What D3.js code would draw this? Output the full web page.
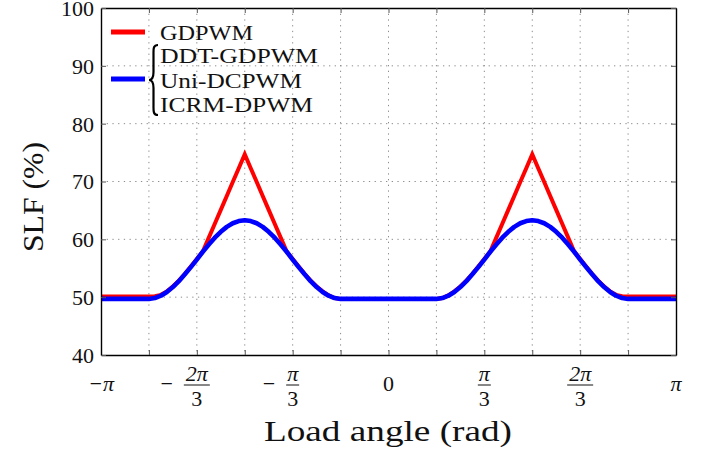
<!DOCTYPE html>
<html>
<head>
<meta charset="utf-8">
<script src="https://cdnjs.cloudflare.com/ajax/libs/d3/7.8.5/d3.min.js"></script>
<style>
	body { margin: 0; background: #fff; }
	svg { display: block; }
</style>
</head>
<body>
<div id="chart"></div>
<script>
// load angle in steps of pi/48
var angleSteps = [
	-48,-47,-46,-45,-44,-43,-42,-41,-40,-39,-38,-37,-36,-35,-34,-33,-32,-31,-30,-29,-28,-27,-26,-25,
	-24,-23,-22,-21,-20,-19,-18,-17,-16,-15,-14,-13,-12,-11,-10,-9,-8,-7,-6,-5,-4,-3,-2,-1,
	0,1,2,3,4,5,6,7,8,9,10,11,12,13,14,15,16,17,18,19,20,21,22,23,24,
	25,26,27,28,29,30,31,32,33,34,35,36,37,38,39,40,41,42,43,44,45,46,47,48
]

var slfGDPWM = [
	50.1,50.1,50.1,50.1,50.1,50.1,50.1,50.1,
	50.1,50.15,50.4,51.0,51.85,52.85,54.0,55.3,56.6,57.9,60.3,62.7,65.1,67.5,69.9,72.3,74.7,
	72.3,69.9,67.5,65.1,62.7,60.3,57.9,56.6,55.3,54.0,52.85,51.85,51.0,50.3,49.85,49.7,
	49.7,49.7,49.7,49.7,49.7,49.7,49.7,49.7,49.7,49.7,49.7,49.7,49.7,49.7,49.7,
	49.7,49.85,50.3,51.0,51.85,52.85,54.0,55.3,56.6,57.9,60.3,62.7,65.1,67.5,69.9,72.3,74.7,
	72.3,69.9,67.5,65.1,62.7,60.3,57.9,56.6,55.3,54.0,52.85,51.85,51.0,50.4,50.15,50.1,
	50.1,50.1,50.1,50.1,50.1,50.1,50.1,50.1
]

var slfDPWM = [
	49.7,49.7,49.7,49.7,49.7,49.7,49.7,49.7,
	49.7,49.85,50.25,50.9,51.75,52.77,53.95,55.2,56.5,57.85,59.1,60.28,61.3,62.15,62.78,63.16,63.3,
	63.16,62.78,62.15,61.3,60.28,59.1,57.85,56.5,55.2,53.95,52.77,51.75,50.9,50.25,49.85,49.7,
	49.7,49.7,49.7,49.7,49.7,49.7,49.7,49.7,49.7,49.7,49.7,49.7,49.7,49.7,49.7,
	49.7,49.85,50.25,50.9,51.75,52.77,53.95,55.2,56.5,57.85,59.1,60.28,61.3,62.15,62.78,63.16,63.3,
	63.16,62.78,62.15,61.3,60.28,59.1,57.85,56.5,55.2,53.95,52.77,51.75,50.9,50.25,49.85,49.7,
	49.7,49.7,49.7,49.7,49.7,49.7,49.7,49.7
]

// x ticks every pi/6, labels every pi/3
var xTickSteps = [-6,-5,-4,-3,-2,-1,0,1,2,3,4,5,6]
var xLabelSteps = [-6,-4,-2,0,2,4,6]
var xLabelSign = ['', '\u2212', '\u2212', '', '', '', '']
var xLabelNum = ['\u2212\u03c0', '2\u03c0', '\u03c0', '0', '\u03c0', '2\u03c0', '\u03c0']
var xLabelDen = ['', '3', '3', '', '3', '3', '']
var yTicks = [40, 50, 60, 70, 80, 90, 100]

var legendNames = ['GDPWM', 'DDT-GDPWM', 'Uni-DCPWM', 'ICRM-DPWM']
var legendWidths = [93, 158, 142, 153]

document.addEventListener('DOMContentLoaded', function() {
	var width = 709, height = 457
	var left = 101, right = 676, top = 8, bottom = 355

	var svg = d3.select('#chart')
		.append('svg')
		.attr('width', width)
		.attr('height', height)
		.attr('font-family', 'Liberation Serif, serif')

	var x = d3.scaleLinear().domain([-Math.PI, Math.PI]).range([left, right])
	var y = d3.scaleLinear().domain([40, 100]).range([bottom, top])

	var piOver6 = xTickSteps.map(function(s){ return s * Math.PI / 6 })

	//dotted grid
	svg.append('g').selectAll('line')
		.data(piOver6.slice(1, -1))
		.enter()
		.append('line')
		.attr('x1', function(d){ return x(d) })
		.attr('x2', function(d){ return x(d) })
		.attr('y1', top)
		.attr('y2', bottom)
		.attr('stroke', '#8c8c8c')
		.attr('stroke-width', 1)
		.attr('stroke-dasharray', '1.3,4.4')

	svg.append('g').selectAll('line')
		.data(yTicks.slice(1, -1))
		.enter()
		.append('line')
		.attr('y1', function(d){ return y(d) })
		.attr('y2', function(d){ return y(d) })
		.attr('x1', left)
		.attr('x2', right)
		.attr('stroke', '#8c8c8c')
		.attr('stroke-width', 1)
		.attr('stroke-dasharray', '1.3,4.4')

	//curves
	var line = d3.line()
		.x(function(d){ return x(d[0] * Math.PI / 48) })
		.y(function(d){ return y(d[1]) })

	svg.append('path')
		.datum(d3.zip(angleSteps, slfGDPWM))
		.attr('d', line)
		.attr('fill', 'none')
		.attr('stroke', '#ff0000')
		.attr('stroke-width', 4)
		.attr('stroke-linejoin', 'miter')
		.attr('stroke-miterlimit', 10)

	svg.append('path')
		.datum(d3.zip(angleSteps, slfDPWM))
		.attr('d', line)
		.attr('fill', 'none')
		.attr('stroke', '#0000ff')
		.attr('stroke-width', 4.6)
		.attr('stroke-linejoin', 'round')

	//axes, ticks pointing inward
	var xAxis = d3.axisBottom(x).tickValues(piOver6).tickSize(-5).tickSizeOuter(0).tickFormat('')
	var xAxisTop = d3.axisTop(x).tickValues(piOver6).tickSize(-5).tickSizeOuter(0).tickFormat('')
	var yAxis = d3.axisLeft(y).tickValues(yTicks).tickSize(-5).tickSizeOuter(0).tickPadding(7)
	var yAxisRight = d3.axisRight(y).tickValues(yTicks).tickSize(-5).tickSizeOuter(0).tickFormat('')

	svg.append('g').attr('class', 'axis').attr('transform', 'translate(0,' + bottom + ')').call(xAxis)
	svg.append('g').attr('class', 'axis').attr('transform', 'translate(0,' + top + ')').call(xAxisTop)
	svg.append('g').attr('class', 'axis').attr('transform', 'translate(' + left + ',0)').call(yAxis)
	svg.append('g').attr('class', 'axis').attr('transform', 'translate(' + right + ',0)').call(yAxisRight)

	//let the axes inherit the serif font
	svg.selectAll('.axis').attr('font-family', null).attr('font-size', null)
	svg.selectAll('.domain').attr('stroke', '#000').attr('stroke-width', 1.4)
	svg.selectAll('.tick line').attr('stroke', '#555').attr('stroke-width', 1)
	svg.selectAll('.tick text')
		.attr('dy', '0.34em')
		.attr('font-size', 22)
		.attr('fill', '#111')

	//x tick labels with fractions
	var labels = svg.append('g').selectAll('g')
		.data(xLabelSteps)
		.enter()
		.append('g')
		.attr('transform', function(d){ return 'translate(' + x(d * Math.PI / 6) + ',0)' })
		.attr('font-size', 22)
		.attr('fill', '#111')

	labels.each(function(d, i){
		var g = d3.select(this)
		if (xLabelDen[i] == '') {
			g.append('text')
				.attr('text-anchor', 'middle')
				.attr('y', 391)
				.attr('font-style', xLabelNum[i] == '0' ? 'normal' : 'italic')
				.text(xLabelNum[i])
			return
		}
		var barW = xLabelNum[i].length > 1 ? 26 : 13
		g.append('text')
			.attr('text-anchor', 'middle')
			.attr('y', 381)
			.attr('font-style', 'italic')
			.text(xLabelNum[i])
		g.append('line')
			.attr('x1', -barW / 2)
			.attr('x2', barW / 2)
			.attr('y1', 385)
			.attr('y2', 385)
			.attr('stroke', '#111')
			.attr('stroke-width', 1)
		g.append('text')
			.attr('text-anchor', 'middle')
			.attr('y', 406)
			.text(xLabelDen[i])
		if (xLabelSign[i] != '') {
			g.append('text')
				.attr('text-anchor', 'end')
				.attr('x', -barW / 2 - 11)
				.attr('y', 391)
				.text(xLabelSign[i])
		}
	})

	//axis titles
	svg.append('text')
		.attr('x', 264)
		.attr('y', 441)
		.attr('textLength', 248)
		.attr('lengthAdjust', 'spacingAndGlyphs')
		.attr('font-size', 30)
		.attr('fill', '#111')
		.text('Load angle (rad)')

	svg.append('text')
		.attr('transform', 'translate(43,252) rotate(-90)')
		.attr('textLength', 110)
		.attr('lengthAdjust', 'spacingAndGlyphs')
		.attr('font-size', 30)
		.attr('fill', '#111')
		.text('SLF (%)')

	//legend
	svg.append('line')
		.attr('x1', 111).attr('x2', 145)
		.attr('y1', 32).attr('y2', 32)
		.attr('stroke', '#ff0000')
		.attr('stroke-width', 5)
	svg.append('line')
		.attr('x1', 111).attr('x2', 145)
		.attr('y1', 79).attr('y2', 79)
		.attr('stroke', '#0000ff')
		.attr('stroke-width', 5)

	var legendY = [39.5, 63, 87.5, 111.5]
	svg.append('g').selectAll('text')
		.data(legendNames)
		.enter()
		.append('text')
		.attr('x', 160)
		.attr('y', function(d, i){ return legendY[i] })
		.attr('textLength', function(d, i){ return legendWidths[i] })
		.attr('lengthAdjust', 'spacingAndGlyphs')
		.attr('font-size', 21)
		.attr('fill', '#111')
		.text(function(d){ return d })

	//curly brace grouping the three DPWM names
	svg.append('path')
		.attr('d', 'M158,45 C153,45 153.5,49 153.5,54 L153.5,72 C153.5,77 152,80 149,80 C152,80 153.5,83 153.5,88 L153.5,106 C153.5,111 153,115 158,115')
		.attr('fill', 'none')
		.attr('stroke', '#000')
		.attr('stroke-width', 2.2)
})
</script>
</body>
</html>
